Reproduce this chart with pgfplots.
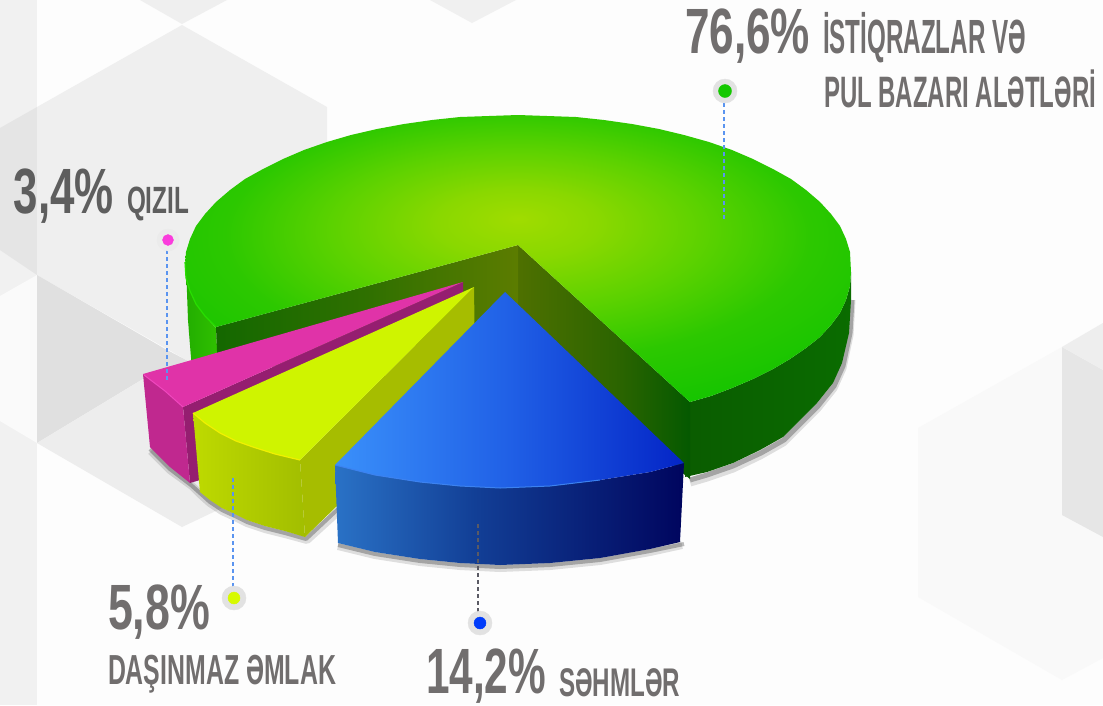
\documentclass[border=0pt]{standalone}
\usepackage{fontspec}
\usepackage{graphicx}
\usepackage{pgfplots}
\pgfplotsset{compat=1.18}
\setmainfont{Liberation Sans}
\definecolor{txt}{HTML}{716E6E}
\definecolor{txd}{HTML}{5E5E5E}
\definecolor{dashb}{HTML}{5A94F0}
\definecolor{G0}{HTML}{A0DC00}\definecolor{G1}{HTML}{8AD800}\definecolor{G2}{HTML}{5CD200}\definecolor{G3}{HTML}{2CC800}\definecolor{G4}{HTML}{12C400}
\definecolor{BT0}{HTML}{3A90FA}\definecolor{BT1}{HTML}{2060E6}\definecolor{BT2}{HTML}{0425C6}
\definecolor{BW0}{HTML}{2A72C6}\definecolor{BW1}{HTML}{123F96}\definecolor{BW2}{HTML}{00055E}
\definecolor{GW0}{HTML}{0A5C00}\definecolor{GW1}{HTML}{0A6C00}
\definecolor{RC0}{HTML}{4E7000}\definecolor{RC1}{HTML}{2A6400}\definecolor{RC2}{HTML}{045900}
\definecolor{LC0}{HTML}{146800}\definecolor{LC1}{HTML}{2F7000}\definecolor{LC2}{HTML}{5C7C00}
\definecolor{YW0}{HTML}{BEDA00}\definecolor{YW1}{HTML}{A2BE00}
\definecolor{LW0}{HTML}{22AE00}\definecolor{LW1}{HTML}{30C000}
% shadings: path bbox spans 25bp..75bp
\pgfdeclareradialshading{greentop}{\pgfpoint{0bp}{7bp}}{color(0bp)=(G0); color(6bp)=(G1); color(14bp)=(G2); color(22bp)=(G3); color(32bp)=(G4); color(50bp)=(G4)}
\pgfdeclarehorizontalshading{bluetop}{100bp}{color(0bp)=(BT0); color(25bp)=(BT0); color(50bp)=(BT1); color(75bp)=(BT2); color(100bp)=(BT2)}
\pgfdeclarehorizontalshading{bluewall}{100bp}{color(0bp)=(BW0); color(25bp)=(BW0); color(45bp)=(BW1); color(75bp)=(BW2); color(100bp)=(BW2)}
\pgfdeclarehorizontalshading{grwall}{100bp}{color(0bp)=(GW0); color(25bp)=(GW0); color(75bp)=(GW1); color(100bp)=(GW1)}
\pgfdeclarehorizontalshading{rcut}{100bp}{color(0bp)=(RC0); color(25bp)=(RC0); color(55bp)=(RC1); color(75bp)=(RC2); color(100bp)=(RC2)}
\pgfdeclarehorizontalshading{lcut}{100bp}{color(0bp)=(LC0); color(25bp)=(LC0); color(50bp)=(LC1); color(75bp)=(LC2); color(100bp)=(LC2)}
\pgfdeclarehorizontalshading{ywall}{100bp}{color(0bp)=(YW0); color(25bp)=(YW0); color(75bp)=(YW1); color(100bp)=(YW1)}
\pgfdeclarehorizontalshading{ltwall}{100bp}{color(0bp)=(LW0); color(25bp)=(LW0); color(75bp)=(LW1); color(100bp)=(LW1)}
\newcommand\W[2]{\resizebox{#1pt}{\height}{#2}}
\newcommand\BigN[1]{\fontsize{64}{64}\selectfont\bfseries #1}
\tikzset{lab/.style={inner sep=0pt,outer sep=0pt,anchor=base west,text=txt},labd/.style={lab,text=txd}}
\begin{document}
\begin{tikzpicture}
\begin{axis}[scale only axis,width=1103pt,height=705pt,xmin=0,xmax=1103,ymin=0,ymax=705,y dir=reverse,hide axis]
% background
\addplot[fill={rgb,255:red,253;green,253;blue,253},draw=none] coordinates {(0,0)(1103,0)(1103,705)(0,705)} --cycle;
\addplot[fill={rgb,255:red,241;green,241;blue,241},draw=none] coordinates {(0,0)(37,0)(37,705)(0,705)} --cycle;
\addplot[fill={rgb,255:red,229;green,229;blue,229},draw=none] coordinates {(0,128)(37,107)(37,275)(0,250)} --cycle;
\addplot[fill={rgb,255:red,250;green,250;blue,250},draw=none] coordinates {(0,296)(37,275)(37,443)(0,421)} --cycle;
\addplot[fill={rgb,255:red,239;green,239;blue,239},draw=none] coordinates {(140,0)(182,24)(227,0)} --cycle;
\addplot[fill={rgb,255:red,240;green,240;blue,240},draw=none] coordinates {(430,0)(472,23)(516,0)} --cycle;
\addplot[fill={rgb,255:red,239;green,239;blue,239},draw=none] coordinates {(182,25)(327,107)(327,300)(190,362)(37,275)(37,107)} --cycle;
\addplot[fill={rgb,255:red,224;green,224;blue,224},draw=none] coordinates {(37,275)(167,350)(190,362)(143,379)(37,443)} --cycle;
\addplot[fill={rgb,255:red,237;green,237;blue,237},draw=none] coordinates {(37,443)(182,527)(260,490)(143,379)} --cycle;
\addplot[fill={rgb,255:red,249;green,249;blue,249},draw=none] coordinates {(918,428)(1062,347)(1103,323)(1103,658)(1062,680)(918,597)} --cycle;
\addplot[fill={rgb,255:red,230;green,230;blue,230},draw=none] coordinates {(1062,347)(1103,370)(1103,537)(1062,515)} --cycle;
\addplot[fill={rgb,255:red,238;green,238;blue,238},draw=none] coordinates {(1062,347)(1103,323)(1103,370)} --cycle;
% shadows
\addplot[draw=black,opacity=.10,line width=9pt,line cap=round] coordinates {(193,330)(197,370)};
\addplot[draw=black,opacity=.15,line width=5pt,line cap=round] coordinates {(192,330)(196,370)};
\addplot[draw=black,opacity=.12,line width=9pt,line join=round] coordinates {(851,300)(849,335)(842,368)(833,388)(817,408)(783,442)(760,455)(733,468)(707,477)(690,482)};
\addplot[draw=black,opacity=.26,line width=5pt,line join=round] coordinates {(852,300)(850,333)(843,366)(834,386)(818,406)(784,440)(761,453)(733,466)(707,475)(690,480)};
\addplot[draw=black,opacity=.12,line width=8pt,line join=round] coordinates {(151,451)(170,470)(192,486)(200,494)(210,503)(222,511)(235,517)(247,523)(265,529)(285,534)(307,540)(340,510)};
\addplot[draw=black,opacity=.26,line width=4pt,line join=round] coordinates {(150,449)(170,469)(191,485)(200,493)(210,502)(222,510)(235,516)(247,522)(265,528)(285,533)(306,539)(338,509)};
\addplot[draw=black,opacity=.12,line width=8pt,line join=round] coordinates {(338,546)(375,555)(420,562)(460,566)(500,568)(550,566)(600,561)(650,552)(682,545)};
\addplot[draw=black,opacity=.26,line width=4pt,line join=round] coordinates {(338,545)(375,554)(420,561)(460,565)(500,567)(550,565)(600,560)(650,551)(684,544)};
% green wall, outer right
\addplot[shade,shading=grwall,draw=none] coordinates {(690,402)(711,396)(732,388)(753,379)(773,369)(790,359)(806,348)(820,337)(831,325)(840,313)(846,300)(850,286)(851,272)(851,300)(849,333)(842,363)(833,383)(817,403)(783,437)(760,450)(733,463)(707,472)(685,477)(685,470)} --cycle;
% green wall, left
\addplot[shade,shading=ltwall,draw=none] coordinates {(186,265)(190,291)(205,316)(216,328)(218,370)(192,370)(188,320)} --cycle;
% cut faces
\addplot[shade,shading=rcut,draw=none] coordinates {(518,245)(690,402)(690,479)(518,340)} --cycle;
\addplot[shade,shading=lcut,draw=none] coordinates {(518,245)(216,327)(218,375)(518,330)} --cycle;
% green top
\addplot[shade,shading=greentop,draw=none] coordinates {(518,245)(690,402)(711,396)(732,388)(753,379)(773,369)(790,359)(806,348)(820,337)(831,325)(840,313)(846,300)(850,286)(851,272)(850,252)(846,239)(840,226)(831,214)(820,202)(806,190)(791,179)(773,169)(753,159)(732,150)(709,142)(684,135)(659,129)(632,124)(604,120)(576,117)(547,116)(518,115)(489,116)(460,117)(432,120)(404,124)(377,129)(351,135)(327,142)(304,150)(283,159)(263,169)(245,179)(230,190)(216,202)(205,214)(196,226)(190,239)(186,252)(185,265)(186,278)(190,291)(196,304)(205,316)(216,327)} --cycle;
\addplot[draw={rgb,255:red,40;green,222;blue,0},line width=1.2pt] coordinates {(185,262)(186,278)(190,291)(196,304)(205,316)(216,327)};
% magenta slice
\addplot[fill={rgb,255:red,149;green,30;blue,112},draw=none] coordinates {(183,407)(463,282)(463,296)(200,480)(190,483)} --cycle;
\addplot[fill={rgb,255:red,192;green,40;blue,143},draw=none] coordinates {(143,374)(165,391)(183,407)(190,483)(170,467)(150,447)} --cycle;
\addplot[fill={rgb,255:red,224;green,51;blue,168},draw=none] coordinates {(463,282)(143,374)(165,391)(183,407)} --cycle;
\addplot[draw={rgb,255:red,240;green,70;blue,190},line width=1pt] coordinates {(144,375)(165,391)(183,407)};
% yellow slice
\addplot[shade,shading=ywall,draw=none] coordinates {(193,413)(205,423)(220,433)(236,441)(253,447)(275,454)(300,460)(305,537)(285,531)(265,526)(247,520)(235,514)(222,508)(210,500)(200,492)} --cycle;
\addplot[fill={rgb,255:red,166;green,189;blue,0},draw=none] coordinates {(474,287)(300,460)(305,537)(400,445)(475,360)} --cycle;
\addplot[fill={rgb,255:red,207;green,244;blue,0},draw=none] coordinates {(474,287)(193,413)(205,423)(220,433)(236,441)(253,447)(275,454)(300,460)} --cycle;
\addplot[draw={rgb,255:red,240;green,240;blue,0},line width=1.2pt] coordinates {(193,413)(205,423)(220,433)(236,441)(253,447)(275,454)(300,460)};
% blue slice
\addplot[shade,shading=bluewall,draw=none] coordinates {(335,465)(375,475)(420,482)(460,486)(500,488)(550,486)(600,480)(650,472)(684,463)(680,542)(650,549)(600,558)(550,563)(500,565)(460,563)(420,559)(375,552)(338,543)} --cycle;
\addplot[shade,shading=bluetop,draw=none] coordinates {(505,292)(335,465)(375,475)(420,482)(460,486)(500,488)(550,486)(600,480)(650,472)(684,463)} --cycle;
\addplot[draw={rgb,255:red,60;green,130;blue,240},line width=1pt] coordinates {(335,465)(375,475)(420,482)(460,486)(500,488)(550,486)(600,480)};
% leader lines
\addplot[draw=dashb,line width=1.1pt,dash pattern=on 4pt off 3pt] coordinates {(724,103)(724,220)};
\addplot[draw=dashb,line width=1.1pt,dash pattern=on 4pt off 3pt] coordinates {(167,250)(167,382)};
\addplot[draw=dashb,line width=1.1pt,dash pattern=on 4pt off 3pt] coordinates {(233,478)(233,590)};
\addplot[draw={rgb,255:red,90;green,90;blue,100},line width=1.1pt,dash pattern=on 4pt off 3pt] coordinates {(478,524)(478,612)};
% dots
\addplot[only marks,mark=*,mark size=12pt,color={rgb,255:red,226;green,226;blue,226}] coordinates {(725,91)(234,598)(480,623)};
\addplot[only marks,mark=*,mark size=11pt,color={rgb,255:red,235;green,235;blue,235}] coordinates {(168,240)};
\addplot[only marks,mark=*,mark size=6.5pt,color={rgb,255:red,20;green,200;blue,0}] coordinates {(725,91)};
\addplot[only marks,mark=*,mark size=5.5pt,color={rgb,255:red,250;green,60;blue,220}] coordinates {(168,240)};
\addplot[only marks,mark=*,mark size=6pt,color={rgb,255:red,215;green,250;blue,0}] coordinates {(234,598)};
\addplot[only marks,mark=*,mark size=6pt,color={rgb,255:red,0;green,60;blue,250}] coordinates {(480,623)};
% labels
\node[lab] at (axis cs:685,53) {\W{125}{\BigN{76,6\%}}};
\node[lab] at (axis cs:823,53) {\W{203}{\fontsize{48}{48}\selectfont\bfseries İSTİQRAZLAR VƏ}};
\node[lab] at (axis cs:824,107) {\W{272}{\fontsize{44}{44}\selectfont\bfseries PUL BAZARI ALƏTLƏRİ}};
\node[labd] at (axis cs:14,213) {\W{100}{\BigN{3,4\%}}};
\node[labd] at (axis cs:127,213) {\W{62}{\fontsize{38}{38}\selectfont\bfseries QIZIL}};
\node[lab] at (axis cs:108,629) {\W{102}{\BigN{5,8\%}}};
\node[lab] at (axis cs:108,684) {\W{228}{\fontsize{42}{42}\selectfont\bfseries DAŞINMAZ ƏMLAK}};
\node[lab] at (axis cs:426,693) {\W{120}{\BigN{14,2\%}}};
\node[lab] at (axis cs:559,696) {\W{121}{\fontsize{40}{40}\selectfont\bfseries SƏHMLƏR}};
\end{axis}
\end{tikzpicture}
\end{document}
